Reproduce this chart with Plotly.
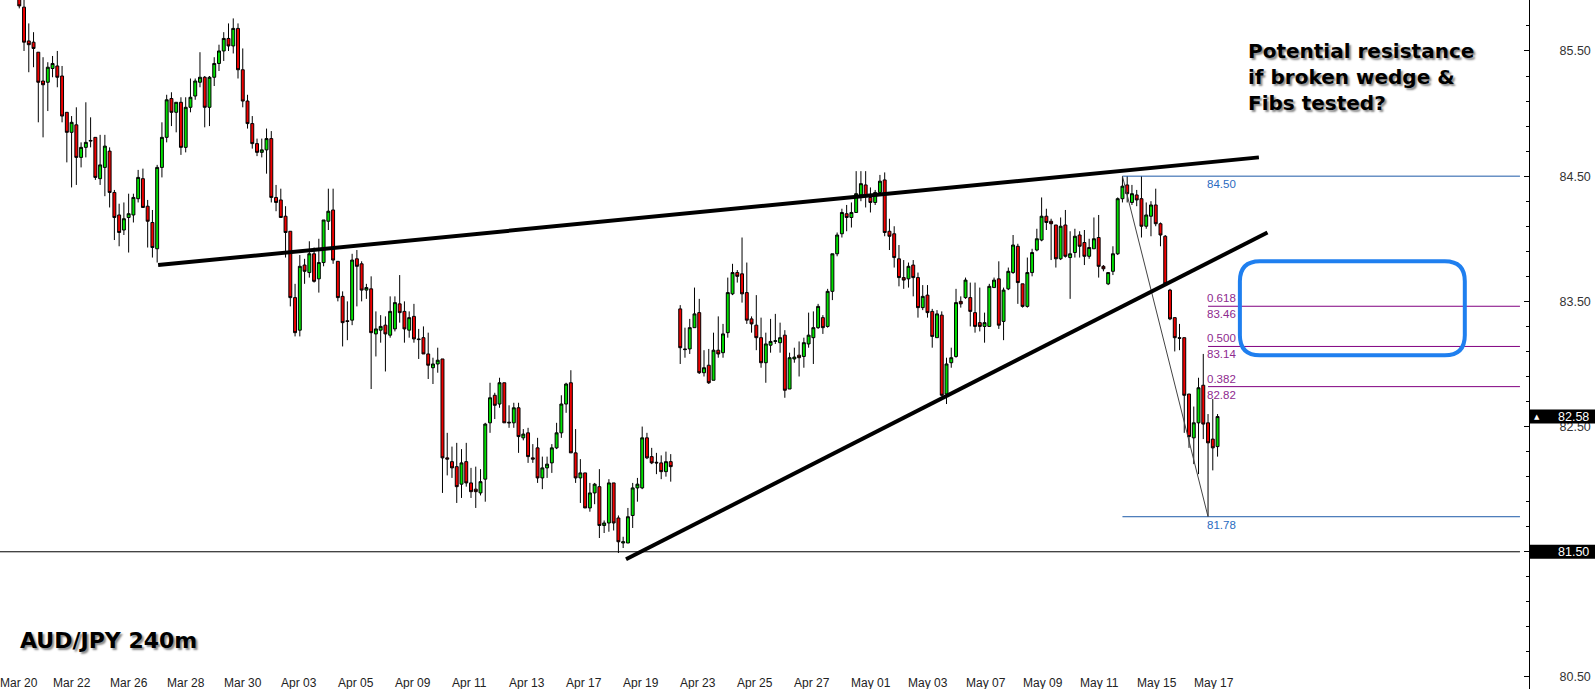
import plotly.graph_objects as go

# ---------------- data (4-hour bars, bar 0 = Mar 20 00:00) ----------------
bar_index = list(range(5, 143)) + list(range(144, 258))

open_ = [
    85.95, 85.85, 85.58, 85.57, 85.49, 85.26, 85.25, 85.36, 85.38, 85.30,
    85.01, 84.85, 84.91, 84.65, 84.73, 84.78, 84.81, 84.48, 84.57, 84.70,
    84.37, 84.19, 84.07, 84.17, 84.19, 84.32, 84.48, 84.26, 84.13, 83.92,
    84.57, 84.81, 85.12, 85.01, 85.09, 84.73, 85.05, 85.14, 85.25, 85.29,
    85.05, 85.29, 85.40, 85.50, 85.60, 85.54, 85.68, 85.35, 85.10, 84.92,
    84.76, 84.69, 84.71, 84.80, 84.33, 84.31, 84.18, 84.06, 83.53, 83.27,
    83.79, 83.73, 83.88, 83.68, 83.81, 84.14, 84.23, 83.82, 83.54, 83.345,
    83.35, 83.84, 83.80, 83.59, 83.60, 83.24, 83.27, 83.31, 83.23, 83.28,
    83.48, 83.42, 83.27, 83.38, 83.20, 83.21, 83.08, 82.97, 83.00, 83.04,
    82.25, 82.22, 82.18, 82.04, 82.22, 82.05, 82.00, 81.97, 82.08, 82.53,
    82.75, 82.68, 82.85, 82.535, 82.53, 82.65, 82.41, 82.45, 82.25, 82.33,
    82.09, 82.17, 82.21, 82.33, 82.45, 82.68, 82.85, 82.29, 82.09, 82.13,
    81.85, 81.97, 82.02, 81.71, 81.73, 82.05, 81.77, 81.57, 81.57, 81.79,
    82.01, 82.01, 82.41, 82.26, 82.215, 82.21, 82.14, 82.22,
    83.44, 83.12, 83.12, 83.29, 83.41, 82.93, 82.99, 82.87, 83.11, 83.09,
    83.25, 83.56, 83.73, 83.72, 83.57, 83.36, 83.31, 83.21, 83.01, 83.15,
    83.18, 83.17, 83.23, 82.80, 83.04, 83.07, 83.06, 83.16, 83.21, 83.29,
    83.37, 83.30, 83.58, 83.88, 84.04, 84.20, 84.17, 84.21, 84.35, 84.43,
    84.33, 84.29, 84.37, 84.47, 84.06, 84.04, 83.84, 83.69, 83.68, 83.79,
    83.69, 83.45, 83.55, 83.42, 83.21, 83.39, 82.76, 83.01, 83.06, 83.50,
    83.53, 83.53, 83.41, 83.33, 83.30, 83.30, 83.61, 83.68, 83.34, 83.60,
    83.73, 83.94, 83.64, 83.46, 83.73, 83.91, 83.99, 84.18, 84.14, 84.11,
    83.84, 84.11, 83.85, 83.89, 84.03, 83.97, 83.86, 83.92, 84.01, 83.78,
    83.64, 83.74, 83.88, 84.32, 84.43, 84.29, 84.35, 84.32, 84.10, 84.18,
    84.27, 84.12, 84.02, 83.59, 83.37, 83.21, 83.21, 82.76, 82.41, 82.53,
    82.83, 82.53, 82.40, 82.34,
]

high = [
    86.00, 85.93, 85.72, 85.65, 85.49, 85.45, 85.41, 85.46, 85.50, 85.38,
    85.01, 84.98, 85.05, 84.77, 85.09, 84.97, 84.81, 84.83, 84.83, 84.73,
    84.39, 84.28, 84.29, 84.36, 84.36, 84.55, 84.56, 84.31, 84.23, 84.59,
    84.93, 85.15, 85.17, 85.09, 85.13, 85.13, 85.28, 85.28, 85.49, 85.30,
    85.30, 85.45, 85.55, 85.65, 85.72, 85.76, 85.72, 85.52, 85.15, 84.98,
    84.80, 84.80, 84.88, 84.86, 84.43, 84.40, 84.26, 84.06, 83.64, 83.87,
    83.84, 83.98, 83.93, 84.00, 84.15, 84.40, 84.40, 83.82, 83.58, 83.50,
    83.88, 83.91, 83.82, 83.64, 83.70, 83.42, 83.39, 83.38, 83.54, 83.54,
    83.71, 83.50, 83.42, 83.48, 83.28, 83.30, 83.25, 83.05, 83.13, 83.04,
    82.45, 82.34, 82.37, 82.32, 82.37, 82.17, 82.18, 82.16, 82.53, 82.85,
    82.77, 82.89, 82.85, 82.67, 82.69, 82.69, 82.48, 82.49, 82.36, 82.41,
    82.26, 82.26, 82.36, 82.53, 82.75, 82.85, 82.95, 82.48, 82.24, 82.13,
    82.05, 82.05, 82.16, 81.75, 82.08, 82.05, 81.79, 81.62, 81.85, 82.05,
    82.09, 82.50, 82.45, 82.33, 82.29, 82.27, 82.30, 82.28,
    83.47, 83.29, 83.36, 83.61, 83.52, 83.11, 83.12, 83.25, 83.38, 83.32,
    83.69, 83.80, 83.75, 84.01, 83.81, 83.38, 83.55, 83.37, 83.25, 83.36,
    83.40, 83.33, 83.27, 83.09, 83.13, 83.18, 83.21, 83.41, 83.42, 83.48,
    83.39, 83.60, 83.88, 84.05, 84.24, 84.27, 84.29, 84.54, 84.54, 84.54,
    84.41, 84.39, 84.51, 84.53, 84.16, 84.10, 83.95, 83.83, 83.81, 83.83,
    83.73, 83.63, 83.63, 83.44, 83.43, 83.42, 83.05, 83.13, 83.60, 83.54,
    83.69, 83.65, 83.65, 83.61, 83.41, 83.64, 83.69, 83.82, 83.61, 83.77,
    84.03, 83.96, 83.64, 83.85, 83.92, 84.08, 84.33, 84.24, 84.16, 84.11,
    84.17, 84.23, 84.06, 84.08, 84.06, 84.07, 84.00, 84.17, 84.19, 83.79,
    83.73, 83.94, 84.33, 84.50, 84.50, 84.43, 84.39, 84.50, 84.29, 84.30,
    84.40, 84.13, 84.03, 83.60, 83.37, 83.32, 83.21, 82.76, 82.66, 82.89,
    83.08, 82.60, 82.72, 82.60,
]

low = [
    85.84, 85.50, 85.33, 85.37, 84.93, 84.81, 85.02, 85.29, 85.21, 84.93,
    84.61, 84.41, 84.43, 84.57, 84.65, 84.73, 84.47, 84.43, 84.34, 84.25,
    83.99, 83.94, 84.03, 83.89, 84.13, 84.29, 84.25, 83.93, 83.85, 83.81,
    84.49, 84.77, 84.90, 84.85, 84.67, 84.69, 85.01, 85.11, 85.21, 84.89,
    84.90, 85.22, 85.34, 85.42, 85.50, 85.48, 85.28, 85.05, 84.88, 84.72,
    84.66, 84.65, 84.52, 84.29, 84.22, 84.17, 83.85, 83.46, 83.22, 83.22,
    83.64, 83.69, 83.65, 83.57, 83.78, 84.07, 83.80, 83.50, 83.14, 83.19,
    83.31, 83.46, 83.50, 83.52, 82.80, 83.06, 83.17, 82.94, 83.21, 83.26,
    83.33, 83.17, 83.21, 83.17, 83.04, 83.08, 82.88, 82.84, 82.93, 81.97,
    82.11, 82.09, 81.89, 81.93, 82.02, 81.93, 81.85, 81.95, 81.90, 82.45,
    82.56, 82.65, 82.53, 82.49, 82.49, 82.29, 82.39, 82.21, 82.21, 82.05,
    82.00, 82.09, 82.13, 82.32, 82.41, 82.61, 82.29, 82.05, 81.89, 81.85,
    81.82, 81.88, 81.61, 81.65, 81.66, 81.67, 81.49, 81.53, 81.57, 81.69,
    81.90, 82.00, 82.24, 82.20, 82.12, 82.08, 82.10, 82.06,
    83.00, 83.05, 83.08, 83.29, 82.92, 82.90, 82.84, 82.87, 83.05, 83.05,
    83.21, 83.55, 83.65, 83.49, 83.32, 83.25, 83.11, 82.97, 82.85, 83.09,
    83.16, 83.09, 82.73, 82.80, 83.01, 82.90, 82.97, 83.13, 83.00, 83.28,
    83.24, 83.29, 83.51, 83.86, 84.01, 84.06, 84.09, 84.21, 84.30, 84.25,
    84.21, 84.27, 84.35, 84.02, 83.91, 83.77, 83.62, 83.60, 83.61, 83.54,
    83.37, 83.43, 83.37, 83.13, 83.21, 82.74, 82.68, 82.97, 83.05, 83.45,
    83.52, 83.30, 83.25, 83.26, 83.17, 83.30, 83.61, 83.28, 83.19, 83.59,
    83.72, 83.48, 83.45, 83.45, 83.70, 83.90, 83.98, 84.07, 83.83, 83.77,
    83.83, 83.85, 83.52, 83.85, 83.85, 83.79, 83.84, 83.92, 83.69, 83.74,
    83.63, 83.71, 83.87, 84.29, 84.29, 84.27, 84.26, 84.01, 84.08, 84.02,
    84.10, 83.94, 83.64, 83.35, 83.10, 83.11, 82.45, 82.33, 82.20, 82.12,
    82.40, 81.78, 82.15, 82.26,
]

close = [
    85.86, 85.57, 85.55, 85.52, 85.25, 85.23, 85.37, 85.40, 85.29, 84.98,
    84.85, 84.93, 84.65, 84.73, 84.77, 84.785, 84.49, 84.59, 84.74, 84.37,
    84.17, 84.05, 84.16, 84.20, 84.33, 84.49, 84.25, 84.14, 83.93, 84.57,
    84.81, 85.11, 85.01, 85.09, 84.73, 85.05, 85.13, 85.26, 85.29, 85.05,
    85.29, 85.40, 85.50, 85.60, 85.54, 85.68, 85.35, 85.10, 84.92, 84.76,
    84.69, 84.71, 84.80, 84.33, 84.29, 84.17, 84.05, 83.53, 83.25, 83.78,
    83.74, 83.88, 83.66, 83.81, 84.15, 84.22, 83.83, 83.53, 83.33, 83.34,
    83.83, 83.78, 83.59, 83.61, 83.25, 83.28, 83.30, 83.24, 83.42, 83.49,
    83.41, 83.28, 83.37, 83.20, 83.195, 83.08, 82.99, 83.00, 83.03, 82.25,
    82.24, 82.17, 82.02, 82.21, 82.05, 81.98, 81.98, 82.06, 82.52, 82.73,
    82.67, 82.85, 82.53, 82.53, 82.65, 82.42, 82.44, 82.26, 82.24, 82.09,
    82.17, 82.20, 82.33, 82.45, 82.68, 82.84, 82.29, 82.09, 82.13, 81.85,
    81.97, 82.04, 81.71, 81.73, 82.05, 81.73, 81.58, 81.58, 81.78, 82.01,
    82.04, 82.41, 82.25, 82.21, 82.21, 82.14, 82.22, 82.18,
    83.13, 83.115, 83.29, 83.40, 82.93, 82.97, 82.85, 83.11, 83.08, 83.24,
    83.57, 83.73, 83.70, 83.56, 83.35, 83.32, 83.21, 83.01, 83.16, 83.18,
    83.185, 83.21, 82.79, 83.05, 83.055, 83.05, 83.17, 83.23, 83.29, 83.46,
    83.29, 83.58, 83.88, 84.03, 84.21, 84.17, 84.21, 84.36, 84.44, 84.34,
    84.29, 84.37, 84.46, 84.05, 84.02, 83.85, 83.69, 83.67, 83.78, 83.69,
    83.45, 83.54, 83.41, 83.22, 83.40, 82.75, 83.00, 83.05, 83.49, 83.48,
    83.67, 83.42, 83.30, 83.30, 83.33, 83.62, 83.67, 83.31, 83.59, 83.74,
    83.95, 83.65, 83.46, 83.73, 83.89, 84.00, 84.18, 84.13, 84.12, 83.84,
    84.10, 83.86, 83.88, 84.02, 83.94, 83.86, 83.93, 84.00, 83.78, 83.76,
    83.73, 83.88, 84.32, 84.42, 84.36, 84.36, 84.31, 84.10, 84.19, 84.27,
    84.12, 84.03, 83.64, 83.36, 83.21, 83.205, 82.75, 82.42, 82.53, 82.81,
    82.52, 82.37, 82.33, 82.58,
]

date_labels = ["Mar 20", "Mar 22", "Mar 26", "Mar 28", "Mar 30", "Apr 03",
               "Apr 05", "Apr 09", "Apr 11", "Apr 13", "Apr 17", "Apr 19",
               "Apr 23", "Apr 25", "Apr 27", "May 01", "May 03", "May 07",
               "May 09", "May 11", "May 15", "May 17"]
bars_per_label = 12

# wedge trend lines (bar, price)
wedge_upper_x = [34.2, 265.7]
wedge_upper_y = [83.79, 84.65]
wedge_lower_x = [132.6, 267.5]
wedge_lower_y = [81.44, 84.05]

fib_high_bar, fib_high = 237, 84.50
fib_low_bar, fib_low = 255, 81.78
fib_ratios = [0.382, 0.500, 0.618]
support_level = 81.50
last_price = 82.58

zone_x = [261.7, 309.0]
zone_y = [83.07, 83.82]

# ---------------- figure ----------------
W, H = 1595, 689
AXIS_PX = 1529
x_lo, x_hi = 0.946, 322.5
y_lo, y_hi = 80.404, 85.907
line_end = 320.6

fig = go.Figure()
fig.add_trace(go.Candlestick(
    x=bar_index, open=open_, high=high, low=low, close=close,
    increasing=dict(fillcolor="#00e000", line=dict(color="black", width=1)),
    decreasing=dict(fillcolor="#f00000", line=dict(color="black", width=1)),
    whiskerwidth=0, showlegend=False, hoverinfo="skip",
))

shapes = []
shapes.append(dict(type="line", xref="x", yref="y", x0=x_lo, x1=line_end,
                   y0=support_level, y1=support_level,
                   line=dict(color="black", width=1), layer="above"))
for lvl in (fib_high, fib_low):
    shapes.append(dict(type="line", xref="x", yref="y", x0=fib_high_bar, x1=line_end,
                       y0=lvl, y1=lvl, line=dict(color="#1e5aa8", width=1), layer="above"))
fib_prices = [fib_low + r * (fib_high - fib_low) for r in fib_ratios]
for p in fib_prices:
    shapes.append(dict(type="line", xref="x", yref="y", x0=fib_low_bar, x1=line_end,
                       y0=p, y1=p, line=dict(color="#800080", width=1), layer="above"))
shapes.append(dict(type="line", xref="x", yref="y", x0=fib_high_bar, x1=fib_low_bar,
                   y0=fib_high, y1=fib_low, line=dict(color="#444444", width=1), layer="above"))
for xs, ys in ((wedge_upper_x, wedge_upper_y), (wedge_lower_x, wedge_lower_y)):
    shapes.append(dict(type="line", xref="x", yref="y", x0=xs[0], x1=xs[1], y0=ys[0], y1=ys[1],
                       line=dict(color="black", width=4), layer="above"))
x0, x1 = zone_x
y0, y1 = zone_y
rx, ry = 4.2, 0.16
path = (f"M {x0+rx},{y1} L {x1-rx},{y1} Q {x1},{y1} {x1},{y1-ry} "
        f"L {x1},{y0+ry} Q {x1},{y0} {x1-rx},{y0} L {x0+rx},{y0} "
        f"Q {x0},{y0} {x0},{y0+ry} L {x0},{y1-ry} Q {x0},{y1} {x0+rx},{y1} Z")
shapes.append(dict(type="path", xref="x", yref="y", path=path,
                   line=dict(color="#1f7fef", width=4), layer="above"))
for p in (last_price, support_level):
    shapes.append(dict(type="rect", xref="paper", yref="y", x0=AXIS_PX / W, x1=1.0,
                       y0=p - 0.056, y1=p + 0.056, fillcolor="black",
                       line=dict(width=0), layer="above"))

annotations = []
for k, lab in enumerate(date_labels):
    annotations.append(dict(x=max(k * bars_per_label, x_lo), y=0, xref="x", yref="paper",
                            text=lab, showarrow=False, xanchor="left", yanchor="bottom",
                            yshift=-3, xshift=-2,
                            font=dict(family="Liberation Sans", size=12, color="#222")))
blue_txt = "#2a6bbf"
purple_txt = "#8e2a8e"
fib_font_blue = dict(family="Liberation Sans", size=11.5, color=blue_txt)
fib_font_purple = dict(family="Liberation Sans", size=11.5, color=purple_txt)
annotations.append(dict(x=fib_low_bar, y=fib_high, xref="x", yref="y", text=f"{fib_high:.2f}",
                        showarrow=False, xanchor="left", yanchor="top", xshift=-3,
                        font=fib_font_blue))
annotations.append(dict(x=fib_low_bar, y=fib_low, xref="x", yref="y", text=f"{fib_low:.2f}",
                        showarrow=False, xanchor="left", yanchor="top", xshift=-3,
                        font=fib_font_blue))
for r, p in zip(fib_ratios, fib_prices):
    annotations.append(dict(x=fib_low_bar, y=p, xref="x", yref="y", text=f"{r:.3f}",
                            showarrow=False, xanchor="left", yanchor="bottom", xshift=-3,
                            font=fib_font_purple))
    annotations.append(dict(x=fib_low_bar, y=p, xref="x", yref="y", text=f"{p:.2f}",
                            showarrow=False, xanchor="left", yanchor="top", xshift=-3,
                            font=fib_font_purple))
for p in (last_price, support_level):
    annotations.append(dict(x=1556 / W, y=p, xref="paper", yref="y", text=f"{p:.2f}",
                            showarrow=False, xanchor="left", yanchor="middle",
                            font=dict(family="Liberation Sans", size=12.5, color="white")))
annotations.append(dict(x=1532 / W, y=last_price, xref="paper", yref="y", text="▲",
                        showarrow=False, xanchor="left", yanchor="middle",
                        font=dict(family="DejaVu Sans", size=7, color="white")))
shadow = "2px 2px 2px #888"
annotations.append(dict(x=1246 / W, y=1 - 37 / H, xref="paper", yref="paper",
                        text="Potential resistance<br>if broken wedge &amp;<br>Fibs tested?",
                        showarrow=False, xanchor="left", yanchor="top", align="left",
                        font=dict(family="DejaVu Sans", size=20, color="black",
                                  weight="bold", shadow=shadow)))
annotations.append(dict(x=18 / W, y=1 - 626 / H, xref="paper", yref="paper",
                        text="AUD/JPY 240m", showarrow=False, xanchor="left", yanchor="top",
                        font=dict(family="DejaVu Sans", size=22, color="black",
                                  weight="bold", shadow=shadow)))

fig.update_layout(
    width=W, height=H, margin=dict(l=0, r=0, t=0, b=0),
    paper_bgcolor="white", plot_bgcolor="white", showlegend=False,
    boxgap=0.12,
    xaxis=dict(domain=[0, AXIS_PX / W], range=[x_lo, x_hi], showgrid=False, zeroline=False,
               showticklabels=False, ticks="", showline=False,
               rangeslider=dict(visible=False), fixedrange=True),
    yaxis=dict(range=[y_lo, y_hi], side="right", anchor="x", showgrid=False, zeroline=False,
               showline=True, linecolor="black", linewidth=1,
               ticks="inside", ticklen=5, tickcolor="black",
               tick0=80.5, dtick=1.0, tickformat=".2f",
               tickfont=dict(family="Liberation Sans", size=12.5, color="#333"),
               ticklabelstandoff=27,
               minor=dict(tick0=80.5, dtick=0.2, ticks="inside", ticklen=3, tickcolor="black"),
               fixedrange=True),
    shapes=shapes, annotations=annotations,
)

fig.write_html("out.html", config={"displayModeBar": False},
               post_script="document.body.style.margin='0';document.body.style.overflow='hidden';")
